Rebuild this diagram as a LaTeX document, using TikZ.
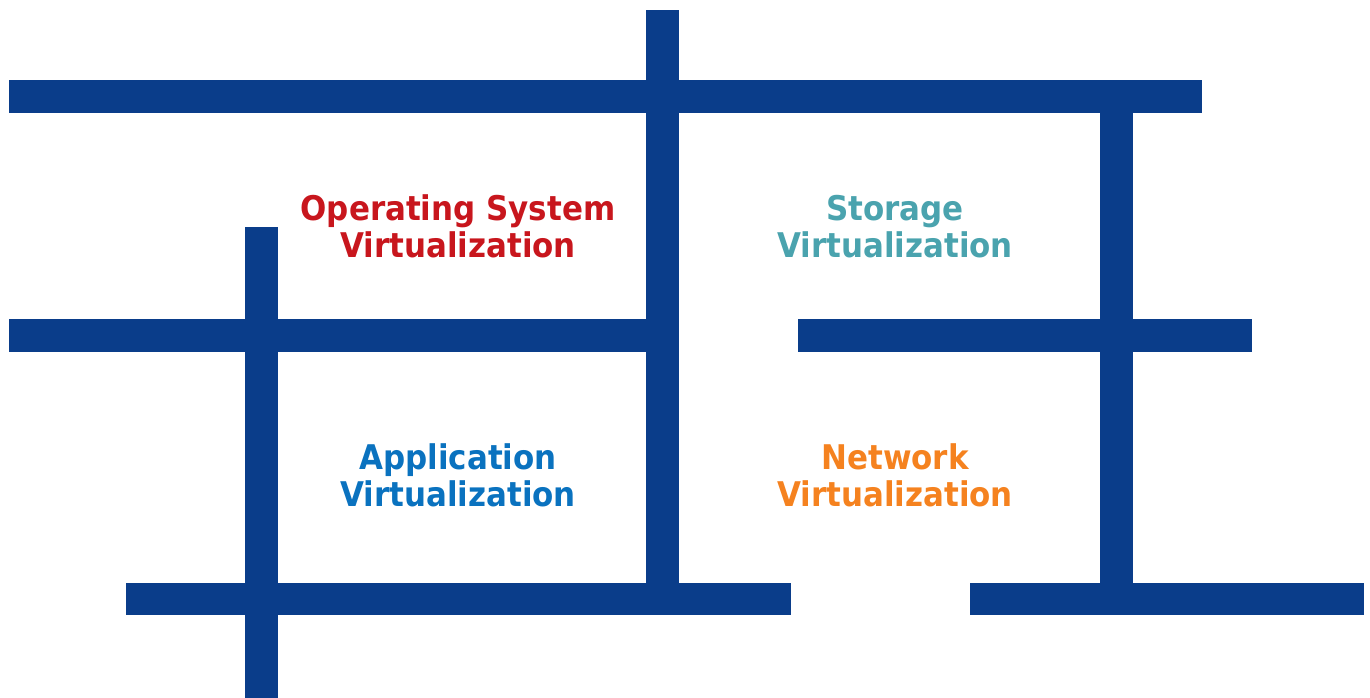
\documentclass[tikz,border=0pt]{standalone}
\usepackage{fontspec}
\newfontfamily\labelfont[FakeStretch=0.91]{DejaVu Sans}
\definecolor{navy}{HTML}{0A3D8A}
\definecolor{osred}{HTML}{C8161D}
\definecolor{stteal}{HTML}{4AA3AE}
\definecolor{apblue}{HTML}{0A72BF}
\definecolor{nworange}{HTML}{F5821F}
\tikzset{
  bar/.style={fill=navy, draw=none},
  lbl/.style={anchor=base, inner sep=0pt, font=\labelfont\bfseries\fontsize{34}{36}\selectfont}
}
\begin{document}
\begin{tikzpicture}[x=1pt,y=-1pt]
\useasboundingbox (0,0) rectangle (1370,698);
\fill[white] (0,0) rectangle (1370,698);
% bars
\path[bar] (9,80) rectangle (1202,113);
\path[bar] (646,10) rectangle (679,583);
\path[bar] (1100,113) rectangle (1133,583);
\path[bar] (245,227) rectangle (278,698);
\path[bar] (9,319) rectangle (646,352);
\path[bar] (798,319) rectangle (1252,352);
\path[bar] (126,583) rectangle (791,615);
\path[bar] (970,583) rectangle (1364,615);
% labels
\node[lbl, text=osred] (os1) at (458,220) {Operating System};
\node[lbl, text=osred] (os2) at (458,257) {Virtualization};
\node[lbl, text=stteal] (st1) at (895,220) {Storage};
\node[lbl, text=stteal] (st2) at (895,257) {Virtualization};
\node[lbl, text=apblue] (ap1) at (458,469) {Application};
\node[lbl, text=apblue] (ap2) at (458,506) {Virtualization};
\node[lbl, text=nworange] (nw1) at (895,469) {Network};
\node[lbl, text=nworange] (nw2) at (895,506) {Virtualization};
\end{tikzpicture}
\end{document}
